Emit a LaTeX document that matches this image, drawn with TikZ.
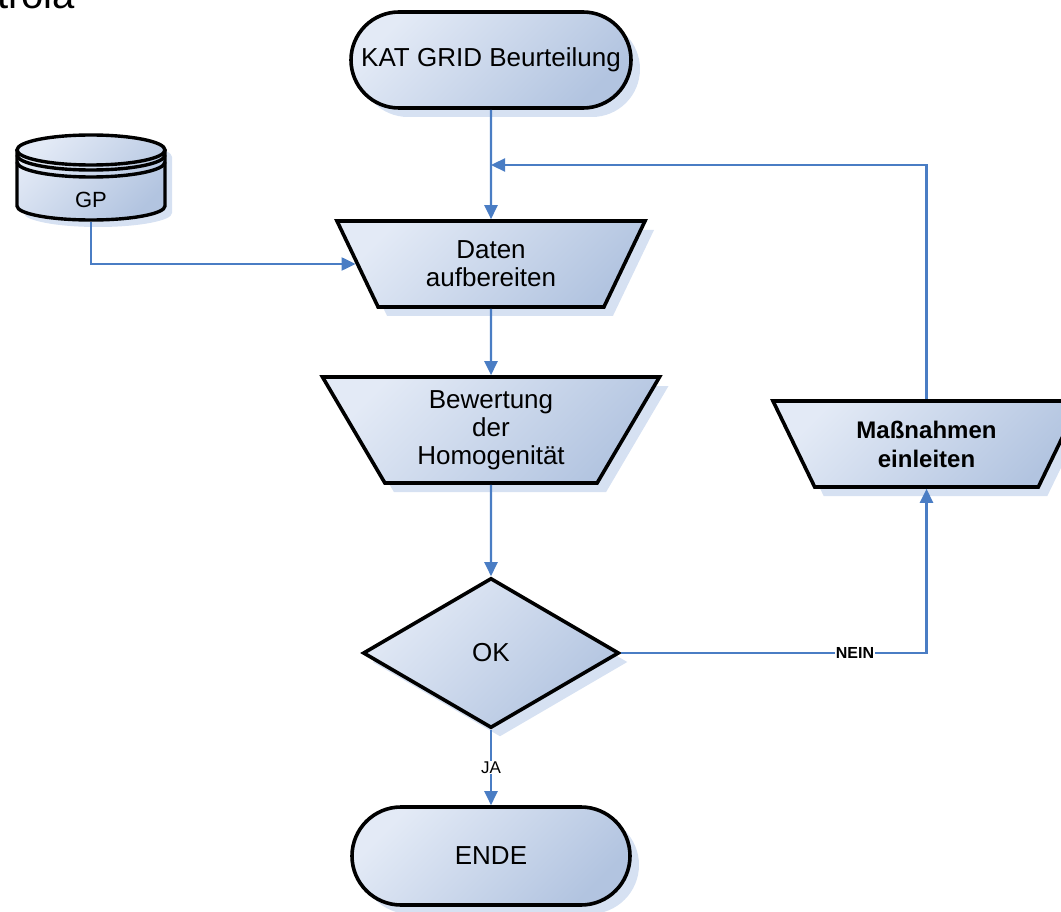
\documentclass[tikz,border=0pt]{standalone}
\usepackage{fontspec}
\setmainfont{Liberation Sans}
\usetikzlibrary{shapes.geometric,shapes.misc,arrows.meta,shadows}
\definecolor{fillA}{HTML}{E3EAF6}
\definecolor{fillB}{HTML}{B2C4E0}
\definecolor{shadowblue}{HTML}{D6E1F2}
\definecolor{conn}{HTML}{4A7DC4}
\begin{document}
\begin{tikzpicture}[x=1pt,y=-1pt,
  shapebase/.style={draw=black, line width=3.6pt, top color=fillA, bottom color=fillB, shading angle=45,
    general shadow={fill=shadowblue, shadow xshift=9pt, shadow yshift=-9pt},
    align=center, inner sep=0pt, font=\fontsize{26}{28}\selectfont},
  term/.style={shapebase, rounded rectangle},
  trap/.style={shapebase, trapezium, shape border rotate=180, trapezium stretches body},
  decision/.style={shapebase, diamond},
  conn/.style={draw=conn, line width=2.3pt, -{Triangle[length=14pt,width=13pt]}},
  lbl/.style={fill=white, inner sep=1pt},
  dbline/.style={draw=black, line width=3.4pt}
]
\useasboundingbox (0,0) rectangle (1061,912);

% cut-off title text
\node[anchor=base west, inner sep=0pt, font=\fontsize{40}{44}\selectfont] (title) at (-3,9) {trola};

% database GP
\begin{scope}[shift={(7,7)}]
  \fill[shadowblue] (17,150) -- (17,206) arc[start angle=180, end angle=360, x radius=74pt, y radius=14pt] -- (165,150) arc[start angle=0, end angle=180, x radius=74pt, y radius=15pt] -- cycle;
\end{scope}
\path[top color=fillA, bottom color=fillB, shading angle=45] (17,150) -- (17,206) arc[start angle=180, end angle=360, x radius=74pt, y radius=14pt] -- (165,150) arc[start angle=0, end angle=180, x radius=74pt, y radius=15pt] -- cycle;
\draw[dbline] (17,150) -- (17,206) arc[start angle=180, end angle=360, x radius=74pt, y radius=14pt] -- (165,150);
\draw[dbline] (17,155) arc[start angle=180, end angle=360, x radius=74pt, y radius=15pt];
\draw[dbline] (17,162) arc[start angle=180, end angle=360, x radius=74pt, y radius=15pt];
\draw[dbline] (91,150) ellipse[x radius=74pt, y radius=15pt];
\node[font=\fontsize{22}{24}\selectfont, inner sep=0pt] (gp) at (91,200) {GP};
\coordinate (gpb) at (91,222);

% main nodes
\node[term, minimum width=280pt, minimum height=96pt] (kat) at (491,60) {KAT GRID Beurteilung};
\node[trap, minimum width=308pt, minimum height=86pt, trapezium left angle=48.3, trapezium right angle=48.3] (daten) at (491,264) {Daten\\aufbereiten};
\node[trap, minimum width=337pt, minimum height=106pt, trapezium left angle=51.8, trapezium right angle=51.8] (bew) at (491,430) {Bewertung\\der\\Homogenität};
\node[trap, minimum width=307pt, minimum height=86pt, trapezium left angle=48.2, trapezium right angle=48.2, font=\fontsize{24}{29}\selectfont\bfseries] (mass) at (926.5,444) {Maßnahmen\\einleiten};
\node[decision, minimum width=256pt, minimum height=150pt] (ok) at (491,653) {OK};
\node[term, minimum width=278pt, minimum height=98pt] (ende) at (491,856) {ENDE};
\coordinate (join) at (491,165);

% connectors
\draw[conn] (kat.south) -- (daten.north);
\draw[conn] (gpb) |- (daten.west);
\draw[conn] (daten.south) -- (bew.north);
\draw[conn] (bew.south) -- (ok.north);
\draw[conn] (ok.east) -| node[lbl, pos=0.383, font=\fontsize{16}{18}\selectfont\bfseries] {NEIN} (mass.south);
\draw[conn] (mass.north) |- (join);
\draw[conn] (ok.south) -- node[lbl, font=\fontsize{17}{19}\selectfont] {JA} (ende.north);
\end{tikzpicture}
\end{document}
